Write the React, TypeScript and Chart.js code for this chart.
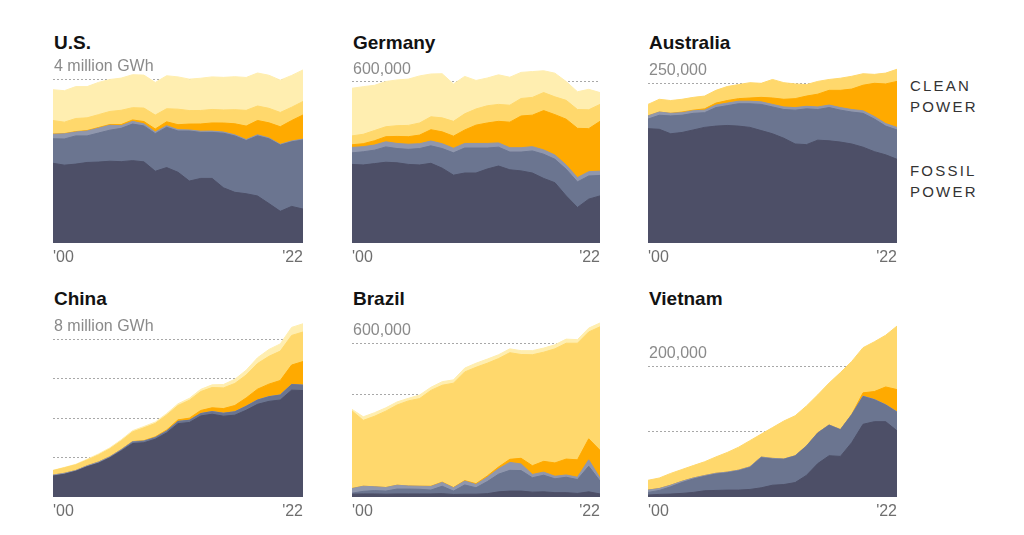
import React, { useEffect, useRef } from 'react';
import { Chart, registerables } from 'chart.js';

Chart.register(...registerables);

// ---------- data (values in thousand GWh) ----------
const years = [2000, 2001, 2002, 2003, 2004, 2005, 2006, 2007, 2008, 2009, 2010, 2011, 2012, 2013, 2014, 2015, 2016, 2017, 2018, 2019, 2020, 2021, 2022];
const xTickLabels = ["'00", "'22"];
const sideLabels = [['CLEAN', 'POWER'], ['FOSSIL', 'POWER']];

const usCoal = [1950, 1905, 1930, 1970, 1980, 2000, 1990, 2015, 1985, 1755, 1845, 1730, 1515, 1580, 1580, 1350, 1240, 1205, 1150, 965, 775, 895, 830];
const usGas = [600, 640, 690, 650, 710, 760, 815, 895, 880, 920, 985, 1010, 1225, 1125, 1125, 1335, 1380, 1300, 1470, 1585, 1620, 1580, 1690];
const usOil = [110, 125, 95, 120, 120, 120, 65, 66, 50, 40, 40, 32, 25, 30, 32, 30, 27, 25, 27, 20, 19, 21, 22];
const usWindSolar = [6, 7, 11, 12, 15, 18, 27, 35, 56, 74, 95, 122, 145, 177, 200, 220, 270, 330, 350, 370, 430, 500, 590];
const usHydro = [330, 280, 320, 310, 315, 320, 350, 300, 330, 340, 320, 380, 330, 330, 330, 320, 345, 385, 355, 355, 350, 325, 330];
const usNuclear = [754, 769, 780, 764, 789, 782, 787, 806, 806, 799, 807, 790, 769, 789, 797, 797, 806, 805, 807, 809, 790, 778, 772];

const deCoal = [292, 290, 295, 300, 298, 292, 290, 296, 278, 252, 260, 260, 275, 286, 272, 268, 260, 240, 224, 175, 132, 163, 175];
const deGas = [43, 49, 50, 57, 53, 56, 61, 65, 73, 83, 93, 93, 78, 70, 66, 70, 82, 90, 87, 99, 95, 86, 76];
const deOil = [20, 19, 19, 19, 19, 19, 18, 18, 18, 17, 17, 17, 17, 16, 16, 16, 16, 16, 16, 16, 16, 16, 16];
const deWindSolar = [10, 11, 16, 19, 26, 28, 32, 42, 44, 45, 50, 68, 76, 80, 95, 118, 117, 146, 150, 170, 183, 160, 185];
const deHydro = [33, 35, 38, 37, 40, 42, 45, 48, 52, 55, 60, 60, 64, 63, 63, 65, 66, 67, 66, 70, 70, 70, 63];
const deNuclear = [177, 177, 168, 168, 170, 172, 175, 159, 164, 139, 139, 106, 103, 110, 104, 97, 96, 81, 88, 70, 66, 76, 44];

const auCoal = [179, 178, 171, 173, 177, 181, 183, 184, 183, 181, 176, 171, 164, 155, 154, 161, 160, 158, 155, 150, 143, 138, 131];
const auGas = [15, 22, 28, 27, 26, 23, 29, 31, 35, 37, 41, 42, 45, 53, 56, 48, 52, 50, 50, 53, 51, 45, 46];
const auOil = [5, 5, 4, 4, 4, 4, 4, 4, 4, 4, 4, 4, 4, 4, 4, 4, 4, 4, 4, 4, 4, 4, 4];
const auWindSolar = [0, 0, 0, 1, 1, 2, 3, 4, 4, 5, 7, 10, 12, 14, 16, 20, 23, 27, 32, 40, 52, 62, 72];
const auHydro = [18, 20, 20, 20, 20, 20, 20, 22, 22, 24, 22, 29, 26, 23, 18, 20, 17, 19, 20, 18, 14, 17, 19];

const cnCoal = [1060, 1150, 1300, 1530, 1710, 1980, 2330, 2710, 2750, 2930, 3250, 3720, 3780, 4110, 4200, 4100, 4150, 4400, 4700, 4850, 4920, 5420, 5400];
const cnGas = [6, 8, 9, 10, 15, 25, 40, 70, 75, 80, 90, 110, 110, 120, 130, 145, 170, 200, 215, 235, 250, 285, 270];
const cnOil = [47, 46, 35, 43, 50, 36, 33, 27, 20, 15, 13, 8, 8, 8, 10, 10, 10, 10, 10, 10, 10, 10, 10];
const cnWindSolar = [1, 1, 1, 1, 1, 2, 4, 6, 15, 27, 45, 75, 100, 150, 185, 230, 310, 415, 545, 630, 730, 980, 1190];
const cnHydro = [225, 280, 290, 290, 360, 400, 440, 490, 650, 680, 760, 730, 910, 960, 1030, 1050, 1120, 1160, 1300, 1410, 1490, 1500, 1500];
const cnNuclear = [17, 17, 25, 43, 50, 53, 55, 62, 68, 70, 74, 86, 97, 112, 133, 171, 213, 248, 295, 348, 366, 408, 418];

const brCoal = [11, 12, 12, 11, 12, 12, 12, 12, 13, 10, 11, 11, 13, 20, 23, 23, 19, 20, 17, 17, 14, 20, 12];
const brGas = [4, 10, 13, 12, 19, 19, 18, 15, 29, 13, 36, 25, 47, 69, 81, 80, 56, 65, 54, 60, 54, 100, 50];
const brOil = [18, 20, 15, 14, 15, 12, 12, 14, 15, 13, 15, 13, 17, 21, 31, 26, 13, 12, 10, 9, 9, 25, 12];
const brWindSolar = [0, 0, 0, 0, 0, 0, 0, 1, 1, 1, 2, 3, 5, 7, 12, 22, 34, 42, 52, 62, 68, 82, 108];
const brHydro = [303, 257, 275, 298, 313, 332, 342, 374, 378, 407, 424, 454, 440, 423, 416, 405, 433, 426, 445, 452, 455, 417, 482];
const brNuclear = [6, 14, 14, 13, 12, 10, 14, 12, 14, 13, 15, 16, 16, 15, 15, 15, 16, 16, 16, 16, 14, 15, 15];

const vnCoal = [3, 4, 4.5, 5.5, 7, 9.5, 10, 10.5, 10.5, 11.5, 14, 18, 19, 22, 33, 51, 63, 62, 83, 111, 115, 115, 101];
const vnGas = [4, 6, 11, 16.5, 20.5, 22, 25, 26.5, 29.5, 33.5, 46, 40, 38.5, 40.5, 44.5, 46.5, 46.5, 40.5, 42.5, 42.5, 33.5, 25.5, 28.5];
const vnOil = [3.5, 3, 2.5, 2, 1.5, 1.3, 1.2, 1, 1, 1, 1, 1, 0.5, 0.5, 0.5, 0.5, 0.5, 0.5, 0.5, 0.5, 0.5, 0.5, 0.5];
const vnWindSolar = [0, 0, 0, 0, 0, 0, 0, 0, 0, 0, 0, 0, 0, 0, 0, 0, 0, 0, 0, 5, 12, 27, 34];
const vnHydro = [15, 16, 18, 18, 19, 21, 25, 30, 35, 40, 35, 47, 58, 61, 61, 58, 64, 87, 81, 69, 76, 79, 97];

// ---------- styling ----------
const FONT = '"Liberation Sans", Arial, Helvetica, sans-serif';
const layerColors: Record<string, string> = {
  coal: '#4d4f67',
  gas: '#6b7590',
  oil: '#9097ad',
  windSolar: '#ffaa00',
  hydro: '#ffd86c',
  nuclear: '#ffeeb0',
};

const PAD_TOP = 20;
const AREA_H = 183;
const AXIS_H = 30;
const CANVAS_H = PAD_TOP + AREA_H + AXIS_H;

interface Layer { name: string; data: number[] }
interface PanelSpec {
  title: string;
  left: number;
  width: number;
  areaTop: number;
  titleTop: number;
  yMax: number;
  grid: number[];
  labelText: string;
  labelValue: number;
  layers: Layer[];
}

const panels: PanelSpec[] = [
  {
    title: 'U.S.', left: 53, width: 250, areaTop: 60, titleTop: 33, yMax: 4477,
    grid: [4000], labelText: '4 million GWh', labelValue: 4000,
    layers: [
      { name: 'coal', data: usCoal }, { name: 'gas', data: usGas }, { name: 'oil', data: usOil },
      { name: 'windSolar', data: usWindSolar }, { name: 'hydro', data: usHydro }, { name: 'nuclear', data: usNuclear },
    ],
  },
  {
    title: 'Germany', left: 352, width: 248, areaTop: 60, titleTop: 33, yMax: 680,
    grid: [600], labelText: '600,000', labelValue: 600,
    layers: [
      { name: 'coal', data: deCoal }, { name: 'gas', data: deGas }, { name: 'oil', data: deOil },
      { name: 'windSolar', data: deWindSolar }, { name: 'hydro', data: deHydro }, { name: 'nuclear', data: deNuclear },
    ],
  },
  {
    title: 'Australia', left: 648, width: 249, areaTop: 60, titleTop: 33, yMax: 286.5,
    grid: [250], labelText: '250,000', labelValue: 250,
    layers: [
      { name: 'coal', data: auCoal }, { name: 'gas', data: auGas }, { name: 'oil', data: auOil },
      { name: 'windSolar', data: auWindSolar }, { name: 'hydro', data: auHydro },
    ],
  },
  {
    title: 'China', left: 53, width: 250, areaTop: 314, titleTop: 289, yMax: 9283,
    grid: [2000, 4000, 6000, 8000], labelText: '8 million GWh', labelValue: 8000,
    layers: [
      { name: 'coal', data: cnCoal }, { name: 'gas', data: cnGas }, { name: 'oil', data: cnOil },
      { name: 'windSolar', data: cnWindSolar }, { name: 'hydro', data: cnHydro }, { name: 'nuclear', data: cnNuclear },
    ],
  },
  {
    title: 'Brazil', left: 352, width: 248, areaTop: 314, titleTop: 289, yMax: 714,
    grid: [200, 400, 600], labelText: '600,000', labelValue: 600,
    layers: [
      { name: 'coal', data: brCoal }, { name: 'gas', data: brGas }, { name: 'oil', data: brOil },
      { name: 'windSolar', data: brWindSolar }, { name: 'hydro', data: brHydro }, { name: 'nuclear', data: brNuclear },
    ],
  },
  {
    title: 'Vietnam', left: 648, width: 249, areaTop: 314, titleTop: 289, yMax: 279.4,
    grid: [100, 200], labelText: '200,000', labelValue: 200,
    layers: [
      { name: 'coal', data: vnCoal }, { name: 'gas', data: vnGas }, { name: 'oil', data: vnOil },
      { name: 'windSolar', data: vnWindSolar }, { name: 'hydro', data: vnHydro },
    ],
  },
];

const topLabelPlugin = {
  id: 'topLabel',
  beforeDatasetsDraw(chart: any, _args: any, opts: any) {
    const { ctx, chartArea, scales } = chart;
    const y = scales.y.getPixelForValue(opts.value);
    ctx.save();
    ctx.font = `16px ${FONT}`;
    ctx.fillStyle = '#8a8a8a';
    ctx.textAlign = 'left';
    ctx.textBaseline = 'alphabetic';
    ctx.fillText(opts.text, chartArea.left + 1, y - 8);
    ctx.restore();
  },
};

function Panel({ p }: { p: PanelSpec }) {
  const ref = useRef<HTMLCanvasElement>(null);
  useEffect(() => {
    const last = years.length - 1;
    const chart = new Chart(ref.current as HTMLCanvasElement, {
      type: 'line',
      data: {
        labels: years.map(String),
        datasets: p.layers.map((l) => ({
          label: l.name,
          data: l.data,
          backgroundColor: layerColors[l.name],
          borderColor: layerColors[l.name],
          borderWidth: 1,
          pointRadius: 0,
          pointHoverRadius: 0,
          fill: 'origin',
          tension: 0,
        })),
      },
      options: {
        responsive: false,
        maintainAspectRatio: false,
        animation: false,
        events: [],
        layout: { padding: { top: PAD_TOP, left: 0, right: 0, bottom: 0 } },
        plugins: {
          legend: { display: false },
          tooltip: { enabled: false },
          // @ts-ignore
          topLabel: { text: p.labelText, value: p.labelValue },
        },
        scales: {
          x: {
            type: 'category',
            grid: { display: false, drawTicks: false },
            border: { display: false },
            ticks: {
              autoSkip: false,
              maxRotation: 0,
              minRotation: 0,
              align: 'inner',
              padding: 0,
              color: '#6e6e6e',
              font: { family: FONT, size: 16, lineHeight: AXIS_H / 16 },
              callback: (_v: any, i: number) => (i === 0 ? xTickLabels[0] : i === last ? xTickLabels[1] : ''),
            },
          },
          y: {
            stacked: true,
            min: 0,
            max: p.yMax,
            ticks: { display: false },
            grid: { drawTicks: false, color: '#a8a8a8', lineWidth: 1 },
            border: { display: false, dash: [2, 2] },
            afterBuildTicks: (axis: any) => {
              axis.ticks = p.grid.map((value) => ({ value }));
            },
          },
        },
      },
      plugins: [topLabelPlugin],
    } as any);
    return () => chart.destroy();
  }, [p]);

  return (
    <>
      <div
        style={{
          position: 'absolute', left: p.left + 1, top: p.titleTop,
          font: `bold 19px/19px ${FONT}`, color: '#121212', whiteSpace: 'nowrap',
        }}
      >
        {p.title}
      </div>
      <canvas
        ref={ref}
        width={p.width}
        height={CANVAS_H}
        style={{ position: 'absolute', left: p.left, top: p.areaTop - PAD_TOP, width: p.width, height: CANVAS_H }}
      />
    </>
  );
}

export default function App() {
  return (
    <div style={{ position: 'absolute', left: 0, top: 0, width: 1024, height: 535, background: '#fff', overflow: 'hidden' }}>
      {panels.map((p) => (
        <Panel key={p.title} p={p} />
      ))}
      {sideLabels.map((lines, i) => (
        <div
          key={i}
          style={{
            position: 'absolute', left: 910, top: i === 0 ? 75 : 160,
            font: `15px/21px ${FONT}`, letterSpacing: '2.2px', color: '#333',
          }}
        >
          {lines.map((t) => (
            <div key={t}>{t}</div>
          ))}
        </div>
      ))}
    </div>
  );
}
